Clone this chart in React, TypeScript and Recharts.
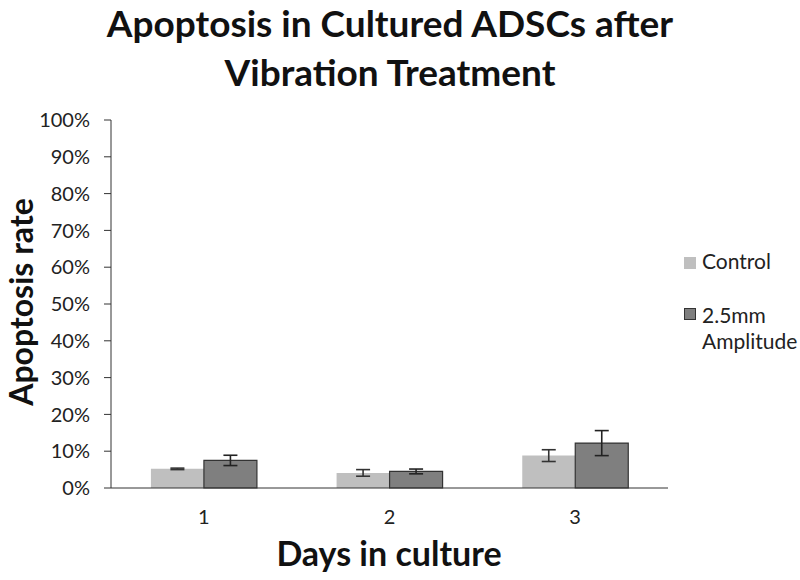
import { Bar, BarChart, ErrorBar, XAxis, YAxis } from "recharts";

const days = ["1", "2", "3"];
const controlRate = [5.2, 4.1, 8.8];
const controlErr = [0.2, 0.9, 1.6];
const amplitudeRate = [7.5, 4.5, 12.2];
const amplitudeErr = [1.4, 0.65, 3.4];
const yTicks = [0, 10, 20, 30, 40, 50, 60, 70, 80, 90, 100];
const dayEdges = [0, 1, 2, 3];
const titleLines = ["Apoptosis in Cultured ADSCs after", "Vibration Treatment"];

const data = days.map((day, i) => ({
  day,
  control: controlRate[i],
  controlErr: controlErr[i],
  amplitude: amplitudeRate[i],
  amplitudeErr: amplitudeErr[i],
}));

const FONT = "Lato, 'Open Sans', sans-serif";

function LegendBox() {
  const items = [
    { label: ["Control"], fill: "#bfbfbf", stroke: "#bfbfbf", top: 248, boxTop: 9 },
    { label: ["2.5mm", "Amplitude"], fill: "#7f7f7f", stroke: "#333", top: 302, boxTop: 6 },
  ];
  return (
    <>
      {items.map((it, i) => (
        <div
          key={i}
          style={{
            position: "absolute",
            left: 684,
            top: it.top,
            display: "flex",
            alignItems: "flex-start",
            fontFamily: FONT,
            fontSize: 21,
            lineHeight: "26px",
            color: "#222",
          }}
        >
          <span
            style={{
              width: 12,
              height: 12,
              marginTop: it.boxTop,
              marginRight: 6,
              flex: "none",
              background: it.fill,
              border: `1px solid ${it.stroke}`,
              boxSizing: "border-box",
            }}
          />
          <div>
            {it.label.map((l) => (
              <div key={l}>{l}</div>
            ))}
          </div>
        </div>
      ))}
    </>
  );
}

export default function App() {
  return (
    <div style={{ position: "absolute", left: 0, top: 0, width: 800, height: 580, background: "#fff" }}>
      {titleLines.map((line, i) => (
        <div
          key={line}
          style={{
            position: "absolute",
            left: 0,
            width: 780,
            top: 4 + i * 49,
            textAlign: "center",
            whiteSpace: "nowrap",
            fontFamily: FONT,
            fontWeight: 700,
            fontSize: 37,
            lineHeight: "38px",
            color: "#111",
          }}
        >
          {line}
        </div>
      ))}
      <BarChart
        width={800}
        height={580}
        data={data}
        margin={{ top: 120, right: 132, bottom: 52, left: 30 }}
        barCategoryGap="21.5%"
        barGap={0}
      >
        <XAxis
          xAxisId="edges"
          type="number"
          domain={[0, 3]}
          ticks={dayEdges}
          height={0}
          tick={false}
          axisLine={false}
          tickLine={{ stroke: "#333" }}
          tickSize={6}
        />
        <XAxis
          xAxisId="cat"
          dataKey="day"
          height={40}
          tickLine={false}
          axisLine={{ stroke: "#333" }}
          tick={{ fontFamily: FONT, fontSize: 20, fill: "#222" }}
          tickMargin={16}
        />
        <YAxis
          width={81}
          domain={[0, 100]}
          ticks={yTicks}
          interval={0}
          tickFormatter={(v) => `${v}%`}
          axisLine={{ stroke: "#333" }}
          tickLine={{ stroke: "#333" }}
          tickSize={7}
          tickMargin={14}
          tick={{ fontFamily: FONT, fontSize: 20, fill: "#222" }}
        />
        <Bar xAxisId="cat" dataKey="control" name="Control" fill="#bfbfbf" isAnimationActive={false}>
          <ErrorBar dataKey="controlErr" width={7} stroke="#333" strokeWidth={1.6} />
        </Bar>
        <Bar
          xAxisId="cat"
          dataKey="amplitude"
          name="2.5mm Amplitude"
          fill="#7f7f7f"
          stroke="#333"
          strokeWidth={1.2}
          isAnimationActive={false}
        >
          <ErrorBar dataKey="amplitudeErr" width={7} stroke="#222" strokeWidth={1.6} />
        </Bar>
      </BarChart>
      <LegendBox />
      <div
        style={{
          position: "absolute",
          left: 110,
          width: 558,
          top: 533,
          textAlign: "center",
          fontFamily: FONT,
          fontWeight: 700,
          fontSize: 34,
          lineHeight: "40px",
          color: "#111",
        }}
      >
        Days in culture
      </div>
      <div
        style={{
          position: "absolute",
          left: 21,
          top: 302,
          transform: "translate(-50%, -50%) rotate(-90deg)",
          whiteSpace: "nowrap",
          fontFamily: FONT,
          fontWeight: 700,
          fontSize: 32,
          lineHeight: "38px",
          color: "#111",
        }}
      >
        Apoptosis rate
      </div>
    </div>
  );
}
